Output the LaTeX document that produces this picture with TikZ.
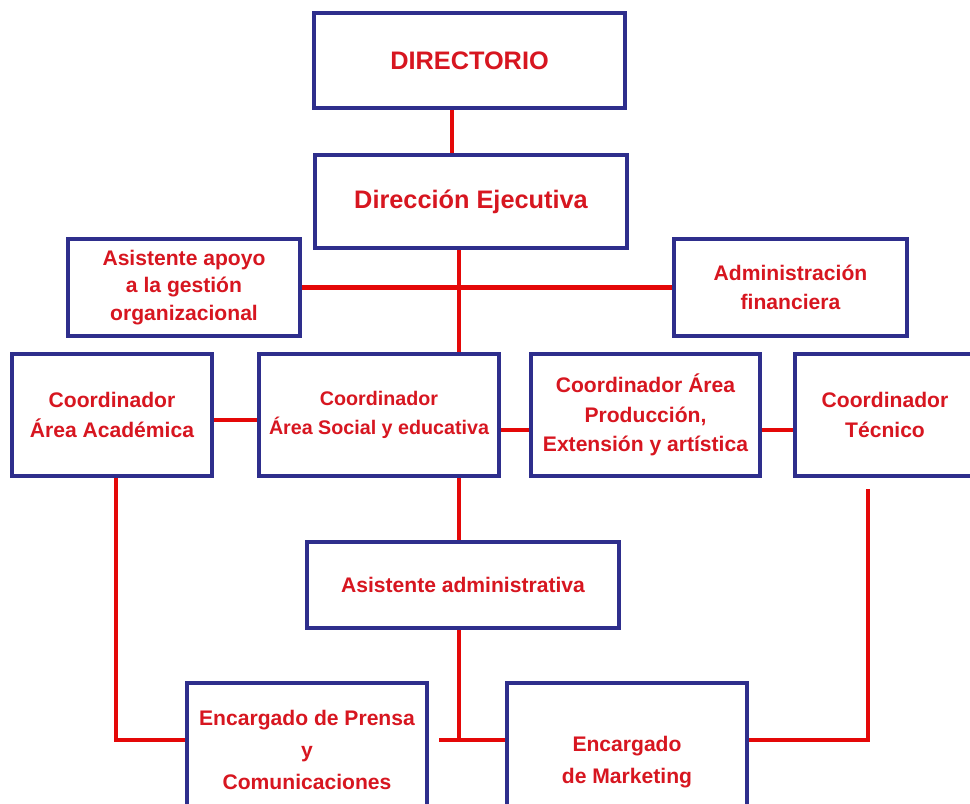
\documentclass[tikz,border=0pt]{standalone}
\usepackage{fontspec}
\setmainfont{Liberation Sans}
\usepackage{tikz}

\definecolor{boxblue}{RGB}{46,46,140}
\definecolor{txtred}{RGB}{215,22,32}
\definecolor{linkred}{RGB}{228,8,8}

\tikzset{
  orgbox/.style={draw=boxblue, line width=3.4pt, fill=white, align=center,
    text=txtred, inner sep=2pt, font=\fontsize{15}{21}\selectfont\bfseries},
  topbox/.style={orgbox, font=\fontsize{18}{22}\selectfont\bfseries},
  link/.style={draw=linkred, line width=3pt}
}

\begin{document}
\begin{tikzpicture}[x=0.025cm, y=-0.025cm]
        \useasboundingbox (0,0) rectangle (970,803);                 %
        \fill [white] (0,0) rectangle (970,803);                      %
        \clip (0,0) rectangle (970,803);                              %
        % helper points for the red lines
        \coordinate (spa) at (452,0);                                 %
        \coordinate (spb) at (459,0);                                 %
        \coordinate (row1) at (0,420);                                %
        \coordinate (row2) at (0,430);                                %
        \coordinate (jn)  at (459,740);                               %
        \coordinate (ca)  at (116,740);                               %
        \coordinate (ct)  at (868,740);                               %
        % boxes
        \node [topbox, minimum width=7.775cm, minimum height=2.375cm] (dir)  at (469.5,60.5) {DIRECTORIO};
        \node [topbox, minimum width=7.8cm,   minimum height=2.325cm] (ejec) at (471,201.5)  {Dirección Ejecutiva};
        \node [orgbox, minimum width=5.8cm,   minimum height=2.425cm,
               font=\fontsize{15}{19.5}\selectfont\bfseries]          (apoyo) at (184,287.5) {Asistente apoyo\\a la gestión\\organizacional};
        \node [orgbox, minimum width=5.825cm, minimum height=2.425cm] (admin) at (790.5,287.5) {Administración\\financiera};
        \node [orgbox, minimum width=5cm,     minimum height=3.05cm]  (acad) at (112,415)    {Coordinador\\Área Académica};
        \node [orgbox, minimum width=6cm,     minimum height=3.05cm,
               font=\fontsize{14}{21}\selectfont\bfseries]            (social) at (379,415)  {Coordinador\\Área Social y educativa};
        \node [orgbox, minimum width=5.725cm, minimum height=3.05cm]  (prod) at (645.5,415)  {Coordinador Área\\Producción,\\Extensión y artística};
        \node [orgbox, minimum width=4.5cm,   minimum height=3.05cm]  (tec)  at (885,415)    {Coordinador\\Técnico};
        \node [orgbox, minimum width=7.8cm,   minimum height=2.15cm]  (asist) at (463,585)   {Asistente administrativa};
        \node [orgbox, minimum width=6cm,     minimum height=3.35cm,
               font=\fontsize{15}{23}\selectfont\bfseries]            (prensa) at (307,750)  {Encargado de Prensa\\y\\Comunicaciones};
        \node [orgbox, minimum width=6cm,     minimum height=3.95cm,
               font=\fontsize{15}{23}\selectfont\bfseries]            (mkt)  at (627,762)    {Encargado\\de Marketing};
        % connectors
        \draw [link] (dir.south -| spa)  -- (ejec.north -| spa);      %
        \draw [link] (ejec.south -| spb) -- (social.north -| spb);    %
        \draw [link] (apoyo.east) -- (admin.west);                    %
        \draw [link] (acad.east |- row1) -- (social.west |- row1);    %
        \draw [link] (social.east |- row2) -- (prod.west |- row2);    %
        \draw [link] (prod.east |- row2) -- (tec.west |- row2);       %
        \draw [link] (social.south -| spb) -- (asist.north -| spb);   %
        \draw [link] (asist.south -| spb) -- (jn);                    %
        \draw [link, shorten <=7pt] (prensa.east |- jn) -- (mkt.west |- jn);
        \draw [link] (acad.south -| ca) -- (ca) -- (prensa.west |- ca);
        \draw [link, shorten <=7.8pt] (tec.south -| ct) -- (ct) -- (mkt.east |- ct);
       \end{tikzpicture}
\end{document}
